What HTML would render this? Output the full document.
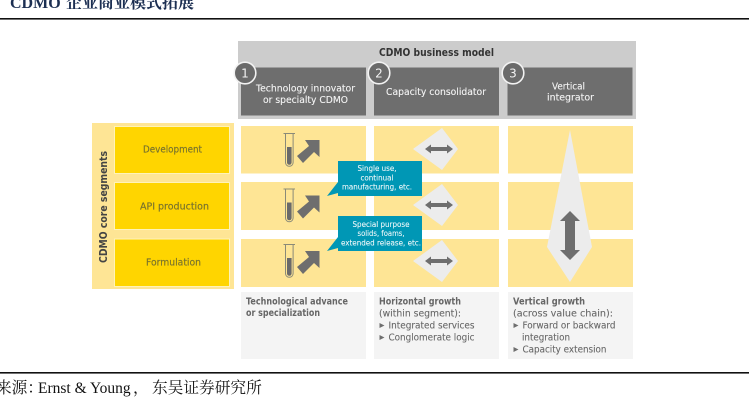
<!DOCTYPE html>
<html><head><meta charset="utf-8"><style>
html,body{margin:0;padding:0;background:#fff}
svg{display:block}
.s{font-family:"DejaVu Sans","Liberation Sans",sans-serif}
.w{fill:#f4f4f4;font-size:10px;stroke:#f4f4f4;stroke-width:.12px}
.g{fill:#666;font-size:10px;stroke:#666;stroke-width:.1px}
.gb{fill:#666;font-size:10px;font-weight:bold}
.c{fill:#f0f8fa;font-size:8px;stroke:#f0f8fa;stroke-width:.08px}
.y{fill:#77722e;font-size:10px;stroke:#77722e;stroke-width:.15px}
.b{filter:blur(.3px)}
</style></head><body>
<svg width="749" height="400" viewBox="0 0 749 400" xmlns="http://www.w3.org/2000/svg">
<defs>
<g id="tube">
<path d="M283.500 133.500h11.500M285.500 134v28.500a3.800 3.800 0 0 0 7.600 0v-28.500" fill="none" stroke="#8a8a78" stroke-width="1"/>
<path d="M287 147h4.600v15.500a2.300 2.300 0 0 1-4.600 0z" fill="#6a6a6a"/>
<path d="M297 156L309 146L305 140H319.500V157L314 152L303 163Z" fill="#6e6e6e"/>
</g>
<g id="dia">
<path d="M413 149L442 128L458 149L442 170Z" fill="#ececec"/>
<path d="M425 149L431 144.500V147H447V144.500L453 149L447 153.500V151H431V153.500Z" fill="#6e6e6e"/>
</g>
</defs>
<rect width="749" height="400" fill="#fff"/>
<g class="b">
<text x="10" y="8" font-family="'Liberation Serif',serif" font-weight="bold" font-size="16" fill="#1c2f52">CDMO</text>
<text x="66" y="8" font-family="'Noto Serif CJK SC',serif" font-weight="bold" font-size="16" fill="#1c2f52">企业商业模式拓展</text>
<rect x="0" y="18" width="749" height="1.6" fill="#111"/>

<rect x="238" y="41" width="398" height="78" fill="#cccccc"/>
<rect x="241" y="67.500" width="125" height="48" fill="#6e6e6e"/>
<rect x="374" y="67.500" width="125" height="48" fill="#6e6e6e"/>
<rect x="507.500" y="67.500" width="125" height="48" fill="#6e6e6e"/>
<text class="s" x="379" y="56" font-size="10.500" font-weight="bold" fill="#333" textLength="115" lengthAdjust="spacingAndGlyphs">CDMO business model</text>

<g fill="#6a6a6a" stroke="#f2f2f2" stroke-width="1.600">
<circle cx="245" cy="73" r="10.800"/><circle cx="379" cy="73" r="10.800"/><circle cx="513" cy="73" r="10.800"/>
</g>
<g class="s" font-size="12" fill="#f2f2f2" text-anchor="middle">
<text x="245" y="77.500">1</text><text x="379" y="77.500">2</text><text x="513" y="77.500">3</text>
</g>
<text class="s w" x="256" y="91.500" textLength="99" lengthAdjust="spacingAndGlyphs">Technology innovator</text>
<text class="s w" x="263" y="103" textLength="85" lengthAdjust="spacingAndGlyphs">or specialty CDMO</text>
<text class="s w" x="386" y="95" textLength="100" lengthAdjust="spacingAndGlyphs">Capacity consolidator</text>
<text class="s w" x="552" y="89.500" textLength="33" lengthAdjust="spacingAndGlyphs">Vertical</text>
<text class="s w" x="547" y="100.500" textLength="47" lengthAdjust="spacingAndGlyphs">integrator</text>

<rect x="92" y="123" width="142" height="166" fill="#fee595"/>
<g fill="#ffd500" stroke="#fff3b8" stroke-width="1">
<rect x="114.500" y="126.500" width="115" height="47"/>
<rect x="114.500" y="182.500" width="115" height="47"/>
<rect x="114.500" y="239" width="115" height="47.500"/>
</g>
<text class="s y" x="143" y="152.500" textLength="59" lengthAdjust="spacingAndGlyphs">Development</text>
<text class="s y" x="140" y="209.500" textLength="69" lengthAdjust="spacingAndGlyphs">API production</text>
<text class="s y" x="146" y="265.500" textLength="55" lengthAdjust="spacingAndGlyphs">Formulation</text>
<text class="s" transform="translate(107,263) rotate(-90)" font-size="10.500" font-weight="bold" fill="#444" textLength="112" lengthAdjust="spacingAndGlyphs">CDMO core segments</text>

<g fill="#fee595">
<rect x="241" y="126" width="125" height="47.500"/><rect x="241" y="182" width="125" height="48"/><rect x="241" y="239" width="125" height="48"/>
<rect x="374" y="126" width="125" height="47.500"/><rect x="374" y="182" width="125" height="48"/><rect x="374" y="239" width="125" height="48"/>
<rect x="508" y="126" width="125" height="47.500"/><rect x="508" y="182" width="125" height="48"/><rect x="508" y="239" width="125" height="48"/>
</g>

<use href="#tube"/><use href="#tube" y="55.500"/><use href="#tube" y="111"/>
<use href="#dia"/><use href="#dia" y="56"/><use href="#dia" y="112"/>

<path d="M570 130L592 247L570 282L547 247Z" fill="#ececec"/>
<path d="M570 211L580 221H575V250H580L570 260L560 250H565V221H560Z" fill="#6e6e6e"/>

<path d="M338 161H422V196H338V193L327 196L338 182Z" fill="#0097b5"/>
<path d="M338 216H422V251H338V248L327 251L338 237Z" fill="#0097b5"/>
<g class="s c" text-anchor="middle">
<text x="377" y="171" textLength="39" lengthAdjust="spacingAndGlyphs">Single use,</text>
<text x="377" y="180.500" textLength="33" lengthAdjust="spacingAndGlyphs">continual</text>
<text x="377" y="189.500" textLength="70" lengthAdjust="spacingAndGlyphs">manufacturing, etc.</text>
<text x="381" y="227" textLength="57" lengthAdjust="spacingAndGlyphs">Special purpose</text>
<text x="381" y="236" textLength="47" lengthAdjust="spacingAndGlyphs">solids, foams,</text>
<text x="381" y="245.500" textLength="80" lengthAdjust="spacingAndGlyphs">extended release, etc.</text>
</g>

<g fill="#f4f4f4">
<rect x="241" y="292" width="125" height="67"/><rect x="374" y="292" width="125" height="67"/><rect x="508" y="292" width="125" height="67"/>
</g>
<text class="s gb" x="246" y="304.500" textLength="102" lengthAdjust="spacingAndGlyphs">Technological advance</text>
<text class="s gb" x="246" y="316" textLength="74" lengthAdjust="spacingAndGlyphs">or specialization</text>
<text class="s gb" x="379" y="304.500" textLength="82" lengthAdjust="spacingAndGlyphs">Horizontal growth</text>
<text class="s g" x="379" y="316.500" textLength="82" lengthAdjust="spacingAndGlyphs">(within segment):</text>
<text class="s g" x="388.500" y="328.500" textLength="86" lengthAdjust="spacingAndGlyphs">Integrated services</text>
<text class="s g" x="388.500" y="340.500" textLength="86" lengthAdjust="spacingAndGlyphs">Conglomerate logic</text>
<text class="s gb" x="513" y="304.500" textLength="72" lengthAdjust="spacingAndGlyphs">Vertical growth</text>
<text class="s g" x="513" y="316.500" textLength="100" lengthAdjust="spacingAndGlyphs">(across value chain):</text>
<text class="s g" x="522.500" y="328.500" textLength="93" lengthAdjust="spacingAndGlyphs">Forward or backward</text>
<text class="s g" x="522" y="340.500" textLength="48" lengthAdjust="spacingAndGlyphs">integration</text>
<text class="s g" x="522.500" y="352.500" textLength="84" lengthAdjust="spacingAndGlyphs">Capacity extension</text>
<g fill="#6e6e6e">
<path d="M379.500 323L384.500 325.500L379.500 328ZM379.500 335L384.500 337.500L379.500 340ZM513.500 323L518.500 325.500L513.500 328ZM513.500 347L518.500 349.500L513.500 352Z"/>
</g>

<rect x="0" y="372" width="749" height="1.600" fill="#111"/>
<text x="-4" y="393" font-family="'Noto Serif CJK SC',serif" font-size="15.700" fill="#111">来源：</text>
<text x="38" y="393" font-family="'Liberation Serif',serif" font-size="15.500" fill="#111">Ernst &amp; Young</text>
<text x="133" y="393" font-family="'Noto Serif CJK SC',serif" font-size="15.700" fill="#111">，</text>
<text x="152" y="393" font-family="'Noto Serif CJK SC',serif" font-size="15.700" fill="#111">东吴证券研究所</text>
</g>
</svg>
</body></html>
